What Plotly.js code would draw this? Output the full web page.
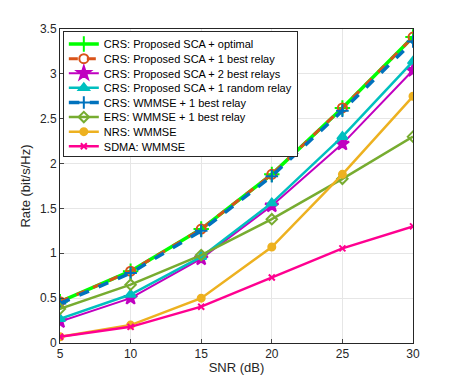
<!DOCTYPE html>
<html>
<head>
<meta charset="utf-8">
<script src="https://cdn.plot.ly/plotly-3.0.1.min.js"></script>
<style>
  body { margin: 0; background: #fff; }
  #myPlot { width: 457px; height: 386px; }
</style>
</head>
<body>
<div id="myPlot"></div>
<script>
// SNR points (dB)
var snr = [5, 10, 15, 20, 25, 30];

// rates (bit/s/Hz)
var crsOptimal   = [0.46, 0.80, 1.27, 1.88, 2.62, 3.41];
var crsBest1     = [0.46, 0.80, 1.27, 1.88, 2.62, 3.41];
var crsBest2     = [0.24, 0.50, 0.94, 1.53, 2.22, 3.04];
var crsRandom1   = [0.27, 0.54, 0.96, 1.56, 2.30, 3.14];
var crsWmmse     = [0.44, 0.78, 1.25, 1.86, 2.59, 3.36];
var ersWmmse     = [0.38, 0.65, 0.98, 1.38, 1.83, 2.30];
var nrsWmmse     = [0.07, 0.20, 0.50, 1.07, 1.88, 2.75];
var sdmaWmmse    = [0.07, 0.18, 0.405, 0.73, 1.055, 1.30];

var names = [
  "CRS: Proposed SCA + optimal",
  "CRS: Proposed SCA + 1 best relay",
  "CRS: Proposed SCA + 2 best relays",
  "CRS: Proposed SCA + 1 random relay",
  "CRS: WMMSE + 1 best relay",
  "ERS: WMMSE + 1 best relay",
  "NRS: WMMSE",
  "SDMA: WMMSE"
];

function tr(y, name, color, dash, symbol, size, width) {
  return {
    x: snr, y: y, name: name, mode: "lines+markers",
    line: {color: color, width: width, dash: dash},
    marker: {symbol: symbol, size: size, color: color,
             line: {color: color, width: 2}}
  };
}

var data = [
  tr(crsOptimal, names[0], "#00ff00", "solid", "cross-thin", 11, 3.5),
  tr(crsBest1,   names[1], "#d95319", "dash",  "circle-open", 9, 3),
  tr(crsBest2,   names[2], "#c000c0", "solid", "star", 10, 2),
  tr(crsRandom1, names[3], "#00bfbf", "solid", "triangle-up", 9, 2.5),
  tr(crsWmmse,   names[4], "#0072bd", "dash",  "cross-thin", 9, 3.5),
  tr(ersWmmse,   names[5], "#77ac30", "solid", "diamond-open", 8, 2.5),
  tr(nrsWmmse,   names[6], "#edb120", "solid", "circle", 7, 2.5),
  tr(sdmaWmmse,  names[7], "#ff0090", "solid", "x-thin", 6, 2.5)
];

var layout = {
  width: 457, height: 386,
  margin: {l: 60, r: 44, t: 29, b: 43},
  font: {family: "Liberation Sans, Arial, sans-serif", size: 12, color: "#262626"},
  paper_bgcolor: "#ffffff", plot_bgcolor: "#ffffff",
  showlegend: true,
  legend: {
    x: 0.008, y: 0.995, xanchor: "left", yanchor: "top",
    bgcolor: "#ffffff", bordercolor: "#262626", borderwidth: 1,
    font: {size: 11, color: "#000000"}, tracegroupgap: 0, itemwidth: 30
  },
  xaxis: {
    range: [5, 30], tickvals: snr, ticks: "inside", ticklen: 4,
    showgrid: true, gridcolor: "#e6e6e6", zeroline: false,
    showline: true, linecolor: "#262626", mirror: true,
    title: {text: "SNR (dB)", standoff: 2, font: {size: 13}}
  },
  yaxis: {
    range: [0, 3.5], dtick: 0.5, ticks: "inside", ticklen: 4,
    showgrid: true, gridcolor: "#e6e6e6", zeroline: false,
    showline: true, linecolor: "#262626", mirror: true,
    title: {text: "Rate (bit/s/Hz)", standoff: 6, font: {size: 13}}
  }
};

var gd = document.getElementById("myPlot");
Plotly.newPlot(gd, data, layout, {displayModeBar: false, staticPlot: true}).then(function () {
  // plotly won't make legend rows shorter than 19px, squeeze them to ~14.6px like the original
  var rowH = 14.6;
  var items = gd.querySelectorAll(".legend .traces");
  if (items.length < 2) return;
  var re = /translate\(\s*([-\d.]+)[ ,]+([-\d.]+)\s*\)/;
  var m0 = re.exec(items[0].getAttribute("transform"));
  var m1 = re.exec(items[1].getAttribute("transform"));
  if (!m0 || !m1) return;
  var x0 = parseFloat(m0[1]), y0 = parseFloat(m0[2]);
  var step = parseFloat(m1[2]) - y0;
  items.forEach(function (el, i) {
    el.setAttribute("transform", "translate(" + x0 + "," + (y0 - 2 + i * rowH) + ")");
  });
  var shrink = items.length * (step - rowH) + 2;
  var bg = gd.querySelector(".legend .bg");
  var h = parseFloat(bg.getAttribute("height")) - shrink;
  bg.setAttribute("height", h);
  gd.querySelectorAll("clipPath rect").forEach(function (r) {
    var ch = parseFloat(r.getAttribute("height"));
    if (r.closest("clipPath").id.indexOf("legend") >= 0) r.setAttribute("height", ch - shrink);
  });
});
</script>
</body>
</html>
